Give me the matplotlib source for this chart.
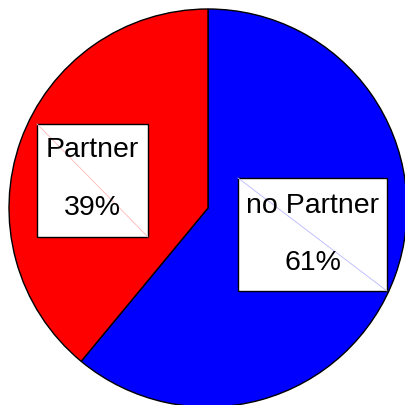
import matplotlib
matplotlib.use("Agg")
import matplotlib.pyplot as plt
from matplotlib.patches import Rectangle

labels = ["no Partner", "Partner"]
values = [61, 39]
colors = ["#0000FF", "#FF0000"]
diag_colors = ["#B8B8FF", "#FFB8B8"]

plt.rcParams['font.family'] = ['Liberation Sans', 'DejaVu Sans']

fig = plt.figure(figsize=(4.05, 4.05), dpi=100)
ax = fig.add_axes([0, 0, 1, 1])
R = 199.0
cx, cy = 208.0, 197.0  # center in pixel coords from bottom-left

wedges, _ = ax.pie(values, colors=colors, startangle=90, counterclock=False,
                   radius=1.0, wedgeprops=dict(edgecolor='black', linewidth=1.0))

ax.set_xlim(-cx / R, (405 - cx) / R)
ax.set_ylim(-cy / R, (405 - cy) / R)
ax.set_aspect('equal')
ax.axis('off')

def px(x, y):
    return ((x - cx) / R, ((405 - y) - cy) / R)

# label boxes (pixel coords, top-left origin): x0, y0, x1, y1, name baseline, value baseline
boxes = {"Partner": (37, 124, 148, 237, 157, 215),
         "no Partner": (238, 178, 387, 291, 213, 270)}
for lab, val, dc in zip(labels, values, diag_colors):
    x0, y0, x1, y1, b1, b2 = boxes[lab]
    bx, by = px(x0, y1)
    tx, ty = px(x1, y0)
    ax.add_patch(Rectangle((bx, by), tx - bx, ty - by, fc='white', ec='black', lw=1.0, zorder=3))
    ax.plot([bx, tx], [ty, by], color=dc, lw=0.6, zorder=3.5)
    xc = (bx + tx) / 2
    ax.text(xc, px(0, b1)[1], lab, ha='center', va='baseline', fontsize=20.5, zorder=4)
    ax.text(xc, px(0, b2)[1], f"{val}%", ha='center', va='baseline', fontsize=20.5, zorder=4)

fig.savefig("out.png", dpi=100)
